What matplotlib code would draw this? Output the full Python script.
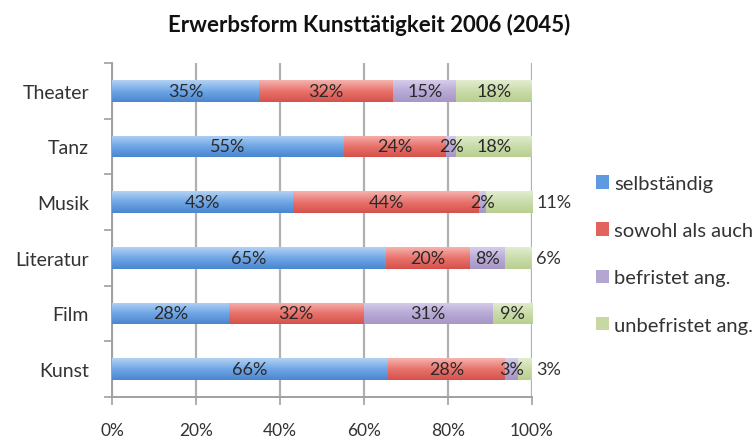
import numpy as np
import matplotlib
matplotlib.use("Agg")
from matplotlib import pyplot as plt
from matplotlib.colors import LinearSegmentedColormap

plt.rcParams['font.family'] = ['Lato', 'DejaVu Sans']

# data (percent), top to bottom
categories = ["Theater", "Tanz", "Musik", "Literatur", "Film", "Kunst"]
selbstaendig = [35.0, 55.2, 43.2, 65.2, 27.8, 65.6]
sowohl = [32.0, 24.4, 44.2, 20.1, 32.1, 28.0]
befristet = [15.0, 2.4, 1.6, 8.3, 30.8, 3.1]
unbefristet = [18.0, 18.0, 11.0, 6.4, 9.3, 3.3]
series_names = ["selbständig", "sowohl als auch", "befristet ang.", "unbefristet ang."]
x_ticks = [0, 20, 40, 60, 80, 100]
title = "Erwerbsform Kunsttätigkeit 2006 (2045)"

# last-segment labels that sit right of the bar
outside = ["Musik", "Literatur", "Kunst"]

# gradient stops: top, middle, bottom
grads = [
    ["#b3d2f3", "#6fa6e6", "#4a86cf"],
    ["#f5b3ae", "#e8736c", "#d6514b"],
    ["#d6cdea", "#b9aad6", "#a796c8"],
    ["#e2ecd0", "#cadcaa", "#b8cf90"],
]
solid = ["#5f9ae0", "#e2625c", "#b4a5d2", "#c6d9a2"]

fig = plt.figure(figsize=(7.56, 4.39), dpi=100)
ax = fig.add_axes([112/756, 1-398/439, (532-112)/756, (398-64)/439])

y = np.arange(len(categories))
data = [selbstaendig, sowohl, befristet, unbefristet]
left = np.zeros(len(categories))
h = 0.39
for k, vals in enumerate(data):
    bars = ax.barh(y, vals, left=left, height=h, color=solid[k], zorder=3)
    cmap = LinearSegmentedColormap.from_list("g%d" % k, grads[k])
    grad = np.linspace(0, 1, 64).reshape(-1, 1)
    for i, b in enumerate(bars):
        x0, y0 = b.get_x(), b.get_y()
        im = ax.imshow(grad, cmap=cmap, aspect='auto', zorder=3.5,
                       extent=[x0, x0 + b.get_width(), y0 + b.get_height(), y0],
                       interpolation='bilinear')
        im.set_clip_path(b)
        v = vals[i]
        txt = "%d%%" % round(v)
        if k == 3 and categories[i] in outside:
            ax.text(101, y[i], txt, ha='left', va='center', fontsize=13,
                    color='#333333', zorder=5)
        else:
            ax.text(x0 + b.get_width() / 2, y[i], txt, ha='center', va='center',
                    fontsize=13, color='#2a2a2a', zorder=5)
    left = left + np.array(vals)

ax.set_xlim(0, 100)
ax.set_ylim(len(categories) - 0.5, -0.5)
ax.set_xticks(x_ticks)
ax.set_xticklabels(["%d%%" % t for t in x_ticks], fontsize=12.5, color='#333333')
ax.set_yticks(y)
ax.set_yticklabels(categories, fontsize=14, color='#333333')
ax.set_yticks(np.arange(len(categories) + 1) - 0.5, minor=True)
ax.tick_params(axis='y', which='major', length=0, pad=16.5)
ax.tick_params(axis='y', which='minor', length=6, width=1.2, color='#a0a0a0')
ax.tick_params(axis='x', length=6, width=1.2, color='#a0a0a0', pad=12)
ax.grid(axis='x', color='#b0b0b0', linewidth=1.6, zorder=0)
for s in ['top', 'right']:
    ax.spines[s].set_visible(False)
for s in ['left', 'bottom']:
    ax.spines[s].set_color('#a0a0a0')
    ax.spines[s].set_linewidth(1.4)

handles = [plt.Rectangle((0, 0), 1, 1, facecolor=c) for c in solid]
fig.legend(handles, series_names, loc='upper left', bbox_to_anchor=(596/756, 1-176/439),
           frameon=False, fontsize=14.5, labelspacing=1.5, handlelength=0.65,
           handleheight=0.65, handletextpad=0.25, borderpad=0, borderaxespad=0,
           labelcolor='#333333')

fig.text(369/756, 1-25/439, title, ha='center', va='center', fontsize=16,
         fontweight='bold', color='#111111')

fig.savefig("out.png", dpi=100)
